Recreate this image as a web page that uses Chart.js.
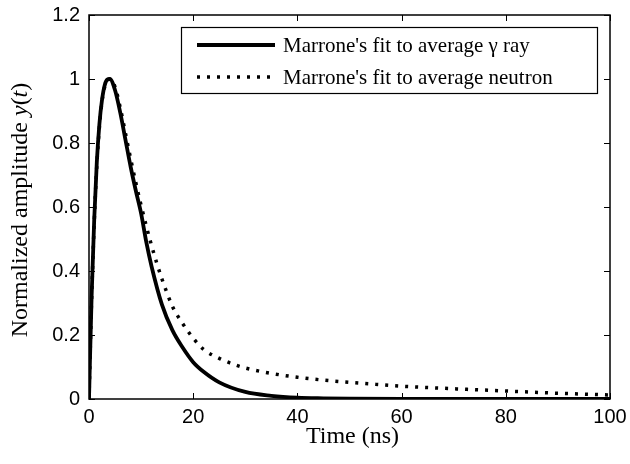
<!DOCTYPE html>
<html>
<head>
<meta charset="utf-8">
<script src="https://cdn.jsdelivr.net/npm/chart.js@4.4.0/dist/chart.umd.min.js"></script>
<style>
  html, body { margin: 0; padding: 0; background: #fff; }
  canvas { display: block; }
</style>
</head>
<body>
<canvas id="pulseChart" width="630" height="464"></canvas>
<script>
// time samples (ns) and normalized amplitudes
const gammaTime = [0, 0.5, 1, 1.5, 2, 2.5, 3, 3.5, 4, 5, 6, 7, 8, 9, 10, 11, 12, 14, 16, 18, 20, 22, 25, 30, 35, 40, 45, 50, 60, 80, 100];
const gammaAmp  = [0, 0.32, 0.56, 0.74, 0.86, 0.935, 0.98, 0.998, 1.0, 0.965, 0.895, 0.81, 0.725, 0.65, 0.58, 0.49, 0.415, 0.295, 0.215, 0.16, 0.115, 0.085, 0.052, 0.022, 0.01, 0.004, 0.002, 0.001, 0, 0, 0];

const neutronTime = [0, 0.5, 1, 1.5, 2, 2.5, 3, 3.5, 4, 5, 6, 7, 8, 9, 10, 11, 12, 13, 14, 16, 18, 20, 22, 25, 28, 30, 35, 40, 45, 50, 55, 60, 70, 80, 90, 100];
const neutronAmp  = [0, 0.31, 0.55, 0.73, 0.85, 0.93, 0.975, 0.995, 1.0, 0.975, 0.91, 0.83, 0.75, 0.675, 0.605, 0.54, 0.48, 0.425, 0.375, 0.29, 0.235, 0.19, 0.155, 0.127, 0.107, 0.097, 0.08, 0.068, 0.059, 0.052, 0.046, 0.04, 0.032, 0.025, 0.018, 0.0125];

const seriesLabels = ["Marrone's fit to average \u03b3 ray", "Marrone's fit to average neutron"];
const xTicks = [0, 20, 40, 60, 80, 100];
const yTicks = [0, 0.2, 0.4, 0.6, 0.8, 1, 1.2];

const SANS = '"Liberation Sans", Arial, sans-serif';
const SERIF = '"Liberation Serif", "Times New Roman", serif';

function toPoints(xs, ys) {
    return xs.map(function(x, i) { return { x: x, y: ys[i] }; });
}

// frame, inward ticks on all four sides, axis titles and legend box
const decorPlugin = {
    id: 'decor',
    afterDraw: function(chart) {
        const ctx = chart.ctx;
        const a = chart.chartArea;
        const xs = chart.scales.x;
        const ys = chart.scales.y;
        const tl = 6;

        ctx.save();
        ctx.strokeStyle = '#000';
        ctx.lineWidth = 1.5;
        ctx.strokeRect(a.left, a.top, a.right - a.left, a.bottom - a.top);

        ctx.lineWidth = 1;
        ctx.beginPath();
        xTicks.forEach(function(v) {
            const px = Math.round(xs.getPixelForValue(v)) + 0.5;
            ctx.moveTo(px, a.bottom); ctx.lineTo(px, a.bottom - tl);
            ctx.moveTo(px, a.top); ctx.lineTo(px, a.top + tl);
        });
        yTicks.forEach(function(v) {
            const py = Math.round(ys.getPixelForValue(v)) + 0.5;
            ctx.moveTo(a.left, py); ctx.lineTo(a.left + tl, py);
            ctx.moveTo(a.right, py); ctx.lineTo(a.right - tl, py);
        });
        ctx.stroke();

        // x title
        ctx.fillStyle = '#000';
        ctx.font = '24px ' + SERIF;
        ctx.textAlign = 'center';
        ctx.textBaseline = 'alphabetic';
        ctx.fillText('Time (ns)', (a.left + a.right) / 2 + 3, 443);

        // y title, mixed upright / italic
        const parts = [
            { t: 'Normalized amplitude ', f: '24px ' + SERIF },
            { t: 'y', f: 'italic 24px ' + SERIF },
            { t: '(', f: '24px ' + SERIF },
            { t: 't', f: 'italic 24px ' + SERIF },
            { t: ')', f: '24px ' + SERIF }
        ];
        let total = 0;
        parts.forEach(function(p) { ctx.font = p.f; p.w = ctx.measureText(p.t).width; total += p.w; });
        ctx.translate(27, (a.top + a.bottom) / 2 + 3);
        ctx.rotate(-Math.PI / 2);
        ctx.textAlign = 'left';
        let cx = -total / 2;
        parts.forEach(function(p) { ctx.font = p.f; ctx.fillText(p.t, cx, 0); cx += p.w; });
        ctx.setTransform(1, 0, 0, 1, 0, 0);

        // legend
        const lx = 181.5, ly = 27.5, lw = 416, lh = 66;
        ctx.fillStyle = '#fff';
        ctx.fillRect(lx, ly, lw, lh);
        ctx.lineWidth = 1.2;
        ctx.strokeStyle = '#000';
        ctx.strokeRect(lx, ly, lw, lh);

        const rows = [45, 77];
        chart.data.datasets.forEach(function(ds, i) {
            ctx.beginPath();
            ctx.lineWidth = ds.borderWidth;
            ctx.setLineDash(ds.borderDash || []);
            ctx.lineCap = 'butt';
            ctx.moveTo(197, rows[i]);
            ctx.lineTo(275, rows[i]);
            ctx.stroke();
            ctx.setLineDash([]);
            ctx.fillStyle = '#000';
            ctx.font = '21px ' + SERIF;
            ctx.textBaseline = 'middle';
            ctx.fillText(ds.label, 283, rows[i] + 1);
        });
        ctx.restore();
    }
};

const ctx = document.getElementById('pulseChart').getContext('2d');
const pulseChart = new Chart(ctx, {
    type: 'line',
    data: {
        datasets: [{
            label: seriesLabels[0],
            data: toPoints(gammaTime, gammaAmp),
            borderColor: '#000',
            borderWidth: 3.8,
            pointRadius: 0,
            cubicInterpolationMode: 'monotone',
            fill: false
        }, {
            label: seriesLabels[1],
            data: toPoints(neutronTime, neutronAmp),
            borderColor: '#000',
            borderWidth: 3.5,
            borderDash: [3, 7],
            borderCapStyle: 'butt',
            pointRadius: 0,
            cubicInterpolationMode: 'monotone',
            fill: false
        }]
    },
    options: {
        responsive: false,
        animation: false,
        layout: { padding: { top: 15, right: 20, left: 0, bottom: 0 } },
        plugins: {
            legend: { display: false },
            tooltip: { enabled: false }
        },
        scales: {
            x: {
                type: 'linear',
                min: 0,
                max: 100,
                afterFit: function(scale) {
                    scale.height = 65;
                    scale.paddingLeft = 0;
                    scale.paddingRight = 0;
                },
                afterBuildTicks: function(scale) { scale.ticks = xTicks.map(function(v) { return { value: v }; }); },
                border: { display: false },
                grid: { display: false, drawTicks: false },
                ticks: {
                    color: '#000',
                    padding: 6,
                    maxRotation: 0,
                    font: { family: SANS, size: 20 }
                }
            },
            y: {
                type: 'linear',
                min: 0,
                max: 1.2,
                afterFit: function(scale) {
                    scale.width = 89;
                    scale.paddingTop = 0;
                    scale.paddingBottom = 0;
                },
                afterBuildTicks: function(scale) { scale.ticks = yTicks.map(function(v) { return { value: v }; }); },
                border: { display: false },
                grid: { display: false, drawTicks: false },
                ticks: {
                    color: '#000',
                    padding: 9,
                    font: { family: SANS, size: 20 },
                    callback: function(value) { return String(Math.round(value * 10) / 10); }
                }
            }
        }
    },
    plugins: [decorPlugin]
});
</script>
</body>
</html>
